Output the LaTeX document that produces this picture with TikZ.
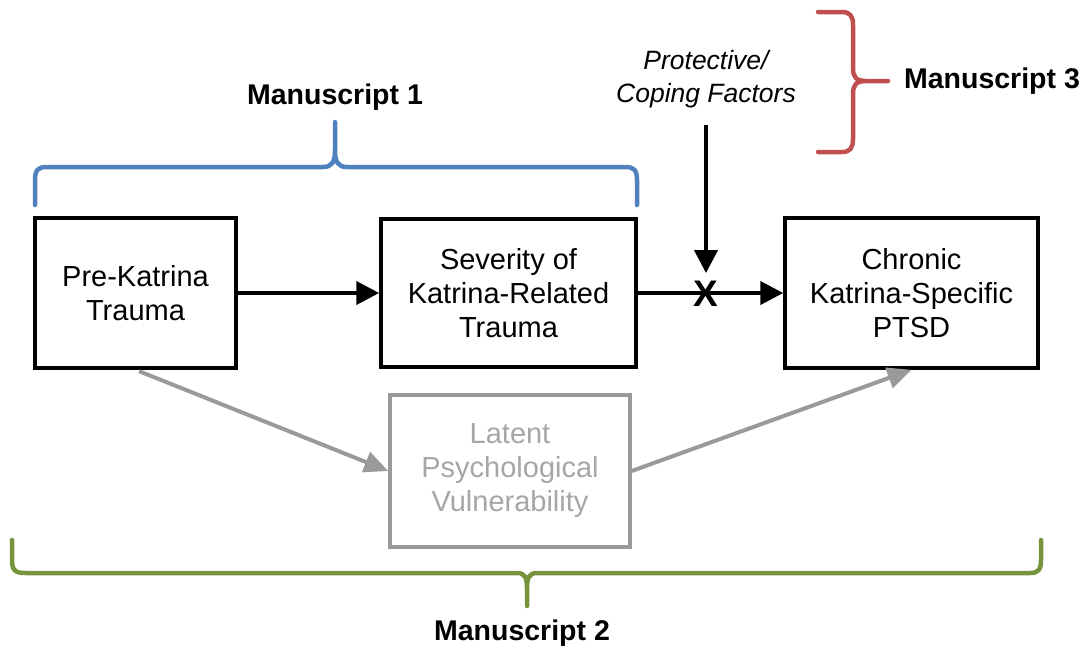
\documentclass[tikz,border=0pt]{standalone}
\usepackage{fontspec}
\setmainfont{Liberation Sans}
\usetikzlibrary{arrows.meta}
\definecolor{msblue}{HTML}{4F81BD}
\definecolor{msred}{HTML}{C0504D}
\definecolor{msgreen}{HTML}{77933C}
\definecolor{latgray}{HTML}{9A9A9A}
\definecolor{lattext}{HTML}{A6A6A6}
\tikzset{
  boxtext/.style={font=\fontsize{29}{34}\selectfont, align=center},
  stagebox/.style={boxtext, draw=black, line width=3.5pt, inner sep=0pt},
  latentbox/.style={boxtext, draw=latgray, text=lattext, line width=3.5pt, inner sep=0pt},
  mlabel/.style={font=\fontsize{28.5}{34}\selectfont\bfseries},
  arr/.style={line width=4pt, -{Triangle[length=23pt,width=23pt]}},
  grayarr/.style={line width=4pt, draw=latgray, -{Triangle[length=24pt,width=21pt]}},
  brace/.style={line width=4.5pt, line cap=round, line join=round}
}
\begin{document}
\begin{tikzpicture}[x=1pt,y=-1pt]
\useasboundingbox (0,0) rectangle (1087,648);

% stage boxes
\node[stagebox, minimum width=201pt, minimum height=150pt] (pre) at (135.5,293) {Pre-Katrina\\Trauma};
\node[stagebox, minimum width=255pt, minimum height=148pt] (sev) at (508.5,293) {Severity of\\Katrina-Related\\Trauma};
\node[stagebox, minimum width=253pt, minimum height=150pt] (chr) at (911.5,293) {Chronic\\Katrina-Specific\\PTSD};
\node[latentbox, minimum width=240pt, minimum height=152pt] (lat) at (510,471) {Latent\\Psychological\\Vulnerability};

% moderator
\node[font=\fontsize{26.5}{33}\selectfont\itshape, align=center, inner sep=0pt] (prot) at (706,79) {Protective/\\Coping Factors};
\node[font=\fontsize{37}{40}\selectfont\bfseries, inner sep=0pt] (x) at (706,294) {X};

% main paths
\draw[arr] (pre) -- (sev);
\draw[arr] (sev) -- (chr);
\draw[arr, shorten <=17pt, shorten >=8pt] (prot.south) -- (x.north);
\draw[grayarr, shorten <=4pt] (pre.south) -- (lat.west);
\draw[grayarr] (lat.east) -- (chr.south);

% brace over the first two stages
\draw[brace, msblue] (35,205) -- (35,180) .. controls (35,170) and (38,167) .. (47,167)
  -- (323,167) .. controls (332,167) and (335,162) .. (335,150) -- (335,122)
  -- (335,150) .. controls (335,162) and (338,167) .. (347,167)
  -- (625,167) .. controls (634,167) and (637,170) .. (637,180) -- (637,205);
\node[mlabel] (m1) at (335,97) {Manuscript 1};

% brace beside the moderator
\draw[brace, msred] (818,12) -- (842,12) .. controls (850,12) and (853,16) .. (853,25)
  -- (853,68) .. controls (853,77) and (856,81) .. (866,81) -- (888,81)
  -- (866,81) .. controls (856,81) and (853,85) .. (853,94)
  -- (853,139) .. controls (853,148) and (850,152) .. (842,152) -- (818,152);
\node[mlabel] (m3) at (992,81) {Manuscript 3};

% brace under the whole model
\draw[brace, msgreen] (12,540) -- (12,560) .. controls (12,570) and (15,573) .. (25,573)
  -- (517,573) .. controls (525,573) and (527,578) .. (527,588) -- (527,606)
  -- (527,588) .. controls (527,578) and (529,573) .. (537,573)
  -- (1030,573) .. controls (1038,573) and (1041,570) .. (1041,560) -- (1041,540);
\node[mlabel] (m2) at (522,633) {Manuscript 2};
\end{tikzpicture}
\end{document}
